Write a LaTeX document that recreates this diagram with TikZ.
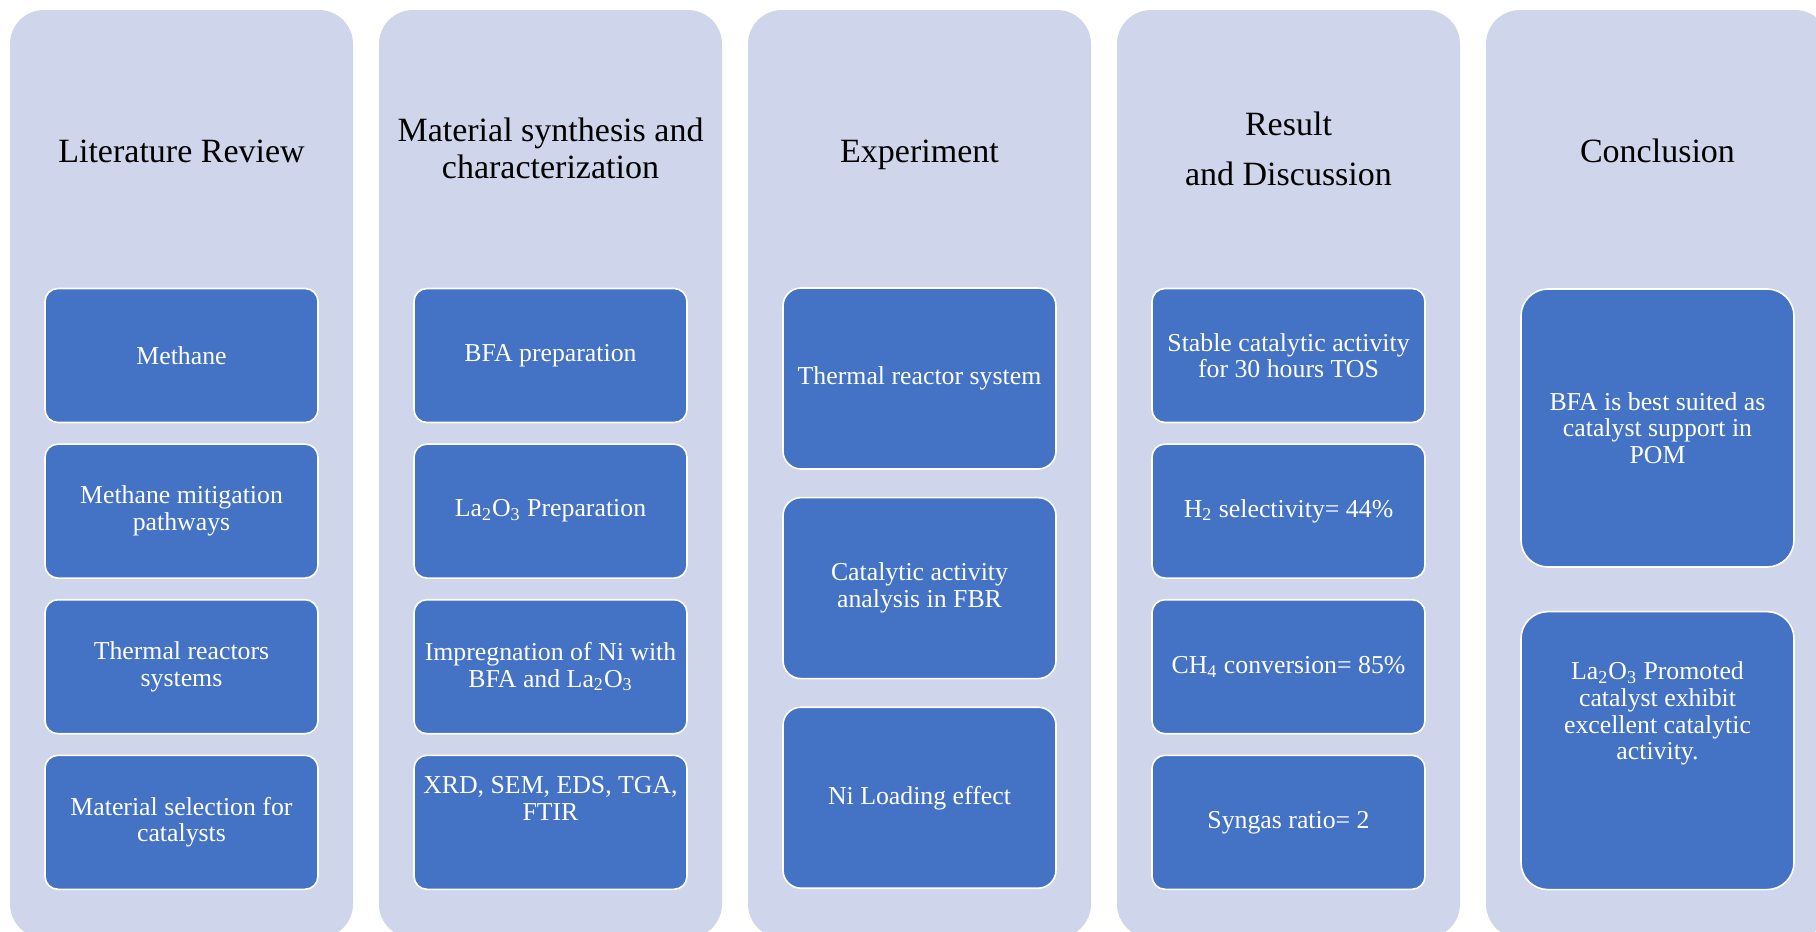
\documentclass[tikz,border=0pt]{standalone}
\usepackage{fontspec}
\setmainfont{Liberation Serif}
\usepackage{xcolor}
\usepackage{tikz}
\usetikzlibrary{positioning}
\definecolor{paneBg}{HTML}{CFD5EA}
\definecolor{cardBlue}{HTML}{4472C4}

\tikzset{
  pane/.style={fill=paneBg, rounded corners=17pt, minimum width=171.5pt,
               minimum height=464pt, inner sep=0pt},
  head/.style={align=center, text=black, font=\fontsize{17}{18.5}\selectfont},
  cardtext/.style={align=center, text=white, font=\fontsize{12.9}{13.3}\selectfont},
  card/.style={cardtext, fill=cardBlue, draw=white, line width=0.8pt,
               minimum width=136.5pt, inner sep=0pt},
  rowcard/.style={card, minimum height=67pt, rounded corners=6.5pt},
  tallcard/.style={card, minimum height=90.5pt, rounded corners=9pt},
  bigcard/.style={card, minimum height=139pt, rounded corners=13.5pt}
}

\begin{document}
\begin{tikzpicture}[x=0.5pt, y=-0.5pt]
  \useasboundingbox (0,0) rectangle (1816,932);

  % the five lanes
  \node[pane] (lit) at (181.5,474) {};
  \node[pane] (mat) at (550.5,474) {};
  \node[pane] (exp) at (919.5,474) {};
  \node[pane] (res) at (1288.5,474) {};
  \node[pane] (con) at (1657.5,474) {};

  % lane headings
  \node[head, anchor=base] (litT) at (181.5,162) {Literature Review};
  \node[head] (matT) at (550.5,148) {Material synthesis and\\characterization};
  \node[head, anchor=base] (expT) at (919.5,162) {Experiment};
  \node[head] (resT) at (1288.5,148.5) {Result\\[6.5pt]and Discussion};
  \node[head, anchor=base] (conT) at (1657.5,162) {Conclusion};

  % literature review
  \node[rowcard] (lit1) at (181.5,355.5) {Methane};
  \node[rowcard, below=10pt of lit1] (lit2) {Methane mitigation\\pathways};
  \node[rowcard, below=10pt of lit2] (lit3) {Thermal reactors\\systems};
  \node[rowcard, below=10pt of lit3] (lit4) {Material selection for\\catalysts};

  % material synthesis
  \node[rowcard] (mat1) at (550.5,355.5) {BFA preparation};
  \node[rowcard, below=10pt of mat1] (mat2) {La\textsubscript{2}O\textsubscript{3} Preparation};
  \node[rowcard, below=10pt of mat2] (mat3) {Impregnation of Ni with\\BFA and La\textsubscript{2}O\textsubscript{3}};
  \node[rowcard, below=10pt of mat3] (mat4) {};
  \node[cardtext] (mat4t) at ([yshift=12pt]mat4.center) {XRD, SEM, EDS, TGA,\\FTIR};

  % experiment
  \node[tallcard] (exp1) at (919.5,378.5) {Thermal reactor system};
  \node[tallcard, below=13.5pt of exp1] (exp2) {Catalytic activity\\analysis in FBR};
  \node[tallcard, below=13.5pt of exp2] (exp3) {Ni Loading effect};

  % result and discussion
  \node[rowcard] (res1) at (1288.5,355.5) {Stable catalytic activity\\for 30 hours TOS};
  \node[rowcard, below=10pt of res1] (res2) {H\textsubscript{2} selectivity= 44\%};
  \node[rowcard, below=10pt of res2] (res3) {CH\textsubscript{4} conversion= 85\%};
  \node[rowcard, below=10pt of res3] (res4) {Syngas ratio= 2};

  % conclusion
  \node[bigcard] (con1) at (1657.5,428) {BFA is best suited as\\catalyst support in\\POM};
  \node[bigcard, below=21.5pt of con1] (con2) {};
  \node[cardtext] (con2t) at ([yshift=18.5pt]con2.center)
    {La\textsubscript{2}O\textsubscript{3} Promoted\\catalyst exhibit\\excellent catalytic\\activity.};
\end{tikzpicture}
\end{document}
